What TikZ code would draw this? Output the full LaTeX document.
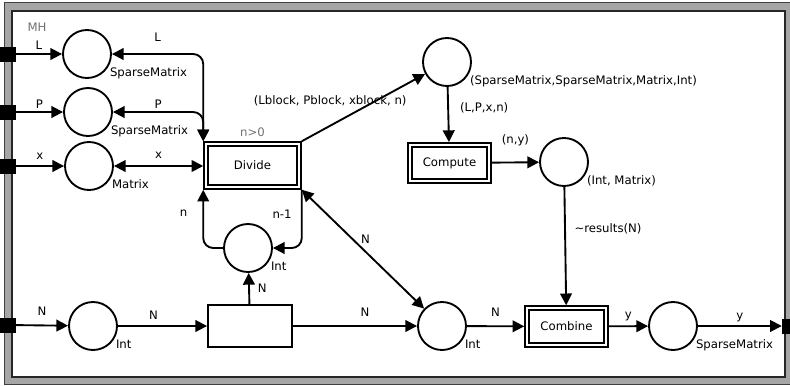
\documentclass[tikz,border=0pt]{standalone}
\usepackage{fontspec}
\setmainfont{DejaVu Sans}
\usetikzlibrary{arrows.meta}

\begin{document}
\begin{tikzpicture}[x=0.03cm, y=-0.03cm]
                \tikzstyle{place} = [draw, circle, line width=1.6pt, minimum size=1.44cm, inner sep=0pt]
                \tikzstyle{ptype} = [label={[anchor=north west, inner sep=1pt]-30:#1}]
                \tikzstyle{trans} = [draw, rectangle, line width=1.6pt, minimum width=2.52cm, minimum height=1.26cm]
                \tikzstyle{subst} = [draw, rectangle, line width=1.5pt, double, double distance=2pt, outer sep=2.5pt, minimum width=2.36cm, minimum height=1.08cm]
                \tikzstyle{port} = [fill=black, rectangle, minimum size=0.45cm, inner sep=0pt]
                \tikzstyle{flow} = [line width=1.6pt, -{Triangle[length=10pt, width=10pt]}]
                \tikzstyle{biflow} = [line width=1.6pt, {Triangle[length=10pt, width=10pt]}-{Triangle[length=10pt, width=10pt]}]
                \tikzstyle{note} = [text=black!55]
                \useasboundingbox (0, 0) rectangle (790, 385);
                \draw[fill=black!35, draw=black!75, line width=0.6pt] (4, 2.5) rectangle (800, 384.5);
                \draw[fill=white, draw=black!85, line width=1.5pt] (12, 11) rectangle (785, 377);
                \node[note] (mh) at (37, 27) {MH};
                \node[port] (pL) at (8, 54) {};
                \node[port] (pP) at (8, 112) {};
                \node[port] (px) at (8, 166) {};
                \node[port] (pN) at (8, 325) {};
                \node[port] (pOut) at (789.5, 326) {};
                \node[place, ptype=SparseMatrix] (Lp) at (87, 54) {};
                \node[place, ptype=SparseMatrix] (Pp) at (88, 112) {};
                \node[place, ptype=Matrix] (xp) at (89, 166) {};
                \node[subst, minimum width=2.78cm, minimum height=1.28cm] (divide) at (252.5, 165.5) {Divide};
                \node[note, anchor=south] (guard) at (divide.north) {n>0};
                \node[place, ptype={(SparseMatrix,SparseMatrix,Matrix,Int)}] (blk) at (447, 62) {};
                \node[subst] (compute) at (449.5, 163) {Compute};
                \node[place, ptype={(Int, Matrix)}] (res) at (564, 162) {};
                \node[subst, minimum height=1.1cm] (combine) at (566.5, 326.5) {Combine};
                \node[place, ptype=SparseMatrix] (outp) at (673, 326) {};
                \node[place, ptype=Int] (nint) at (442, 326) {};
                \node[place, ptype=Int] (nin) at (93, 326) {};
                \node[trans] (split) at (250, 326) {};
                \node[place, ptype=Int] (cnt) at (248, 248) {};
                \draw[flow] (pL) -- node[above=0pt] (lL0) {L} (Lp);
                \draw[flow] (pP) -- node[above=-1pt] (lP0) {P} (Pp);
                \draw[flow] (px) -- node[above=1pt] (lx0) {x} (xp);
                \draw[biflow, rounded corners=0.3cm] (Lp) -- node[above=6.5pt] (lL1) {L} (Lp -| divide.north west) -- (divide.north west);
                \draw[biflow, rounded corners=0.3cm] (Pp) -- node[above=-1pt] (lP1) {P} (Pp -| divide.north west) -- (divide.north west);
                \draw[biflow] (xp) -- node[above=2pt] (lx1) {x} (xp -| divide.west);
                \draw[flow] (divide.north east) -- node[pos=0.23, yshift=21pt] (lblk) {(Lblock, Pblock, xblock, n)} (blk);
                \draw[flow] (blk) -- node[pos=0.38, right=6pt] (lin) {(L,P,x,n)} (compute);
                \draw[flow] (compute) -- node[above=10pt] (lny) {(n,y)} (res);
                \draw[flow] (res) -- node[pos=0.35, right=4pt] (lres) {\textasciitilde results(N)} (combine);
                \draw[flow] (combine) -- node[above=0pt] (ly0) {y} (outp);
                \draw[flow] (outp) -- node[above=-1pt] (ly1) {y} (pOut);
                \draw[flow] (pN) -- node[above=4pt] (lN0) {N} (nin);
                \draw[flow] (nin) -- node[pos=0.4, above=1pt] (lN1) {N} (split);
                \draw[flow] (split) -- node[pos=0.58, above=4pt] (lN2) {N} (nint);
                \draw[flow] (nint) -- node[above=4pt] (lN3) {N} (combine);
                \draw[flow] (split) -- node[right=3.5pt] (lN4) {N} (cnt);
                \draw[biflow] (divide.south east) -- node[pos=0.52, above=3pt] (lN5) {N} (nint);
                \draw[flow, rounded corners=0.3cm] (cnt.west) -- (cnt.west -| divide.south west) -- node[pos=0.6, left=9.5pt] (ln) {n} (divide.south west);
                \draw[flow, rounded corners=0.3cm] (divide.south east) -- node[pos=0.42, left=4.5pt] (lnm) {n-1} (divide.south east |- cnt.east) -- (cnt.east);
            \end{tikzpicture}
\end{document}
